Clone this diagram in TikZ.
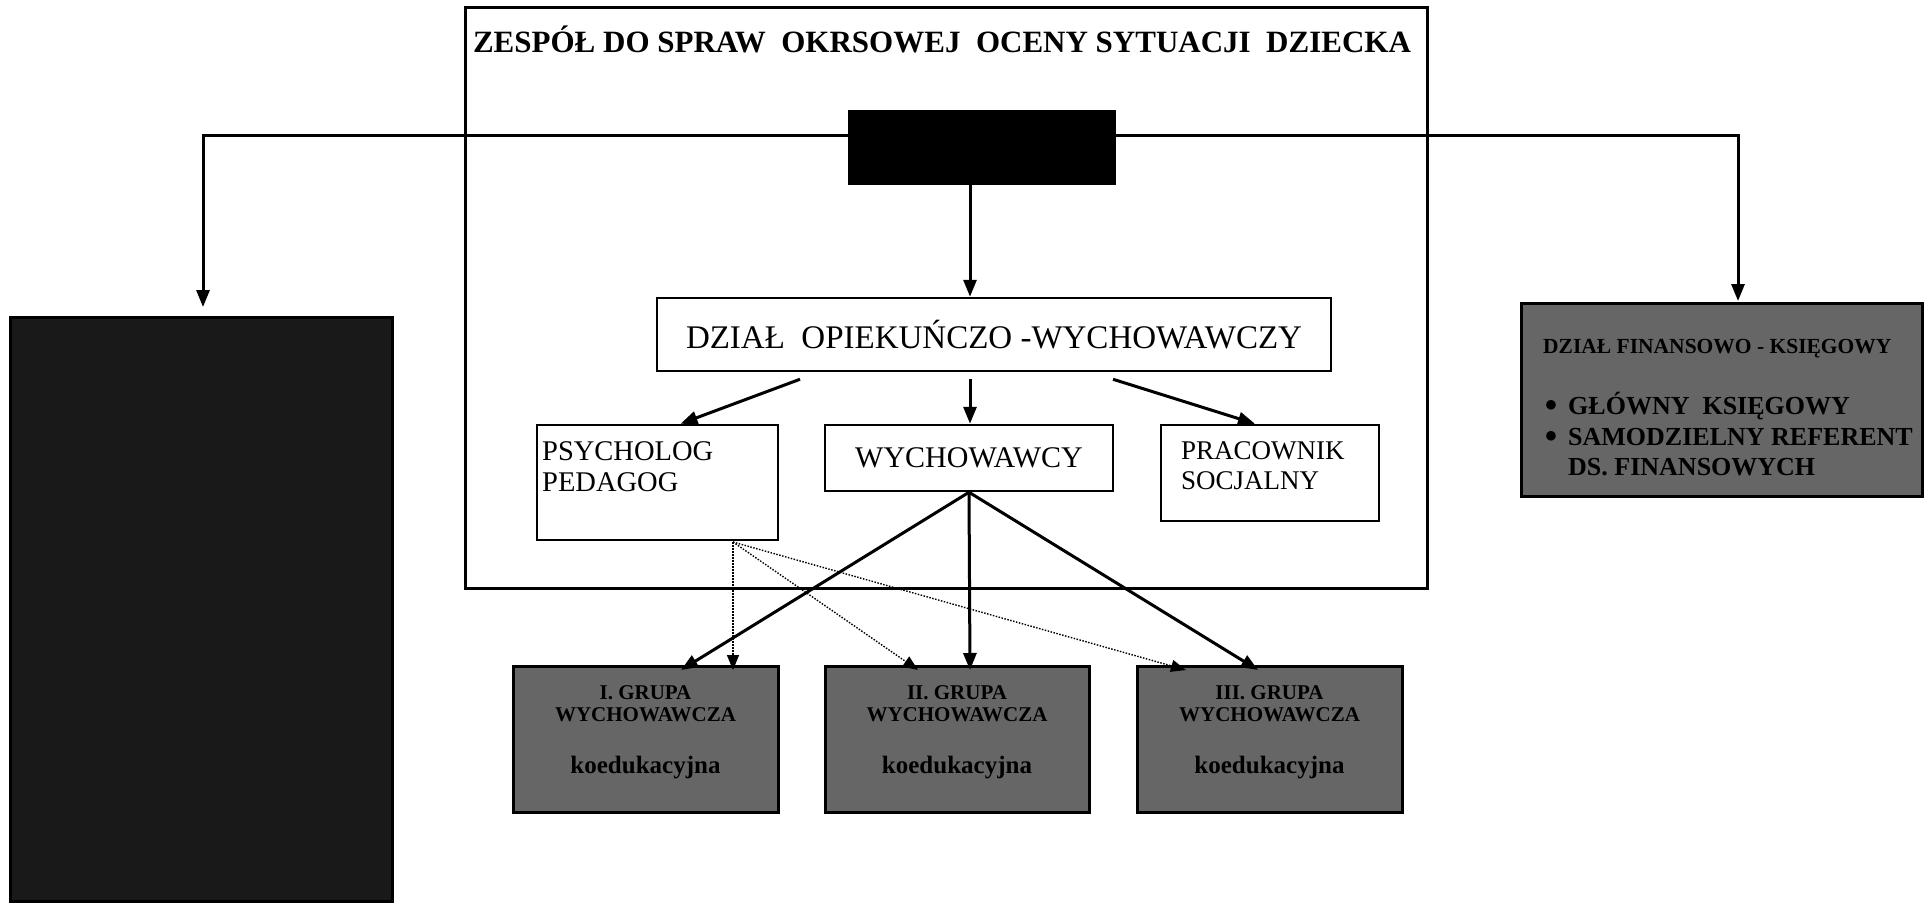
\documentclass[tikz,border=0pt]{standalone}
\usepackage{fontspec}
\setmainfont{Liberation Serif}
\usetikzlibrary{arrows.meta}
\begin{document}
\begin{tikzpicture}[x=1pt,y=-1pt,
  plain/.style={draw=black, line width=2.5pt, fill=white, inner sep=0pt, rectangle},
  darkbox/.style={draw=black, line width=3pt, fill=black!60, inner sep=0pt, rectangle},
  txt/.style={inner sep=0pt, text=black},
  conn/.style={line width=3pt, -{Triangle[length=17pt,width=13pt]}},
  dots/.style={line width=1.4pt, dash pattern=on 1.5pt off 1.5pt, -{Triangle[length=15pt,width=12pt]}}
]
\useasboundingbox (0,0) rectangle (1925,903);
\fill[white] (0,0) rectangle (1925,903);

% main frame
\node[plain, line width=3pt, minimum width=962pt, minimum height=581pt] (frame) at (946,298) {};
\node[txt, font=\fontsize{31}{34}\selectfont\bfseries] (title) at (942,39) {ZESPÓŁ DO SPRAW\ \ OKRSOWEJ\ \ OCENY SYTUACJI\ \ DZIECKA};

% black head box
\node[draw=black, fill=black, inner sep=0pt, minimum width=267pt, minimum height=74pt] (head) at (981.5,147) {};

% department
\node[plain, minimum width=674pt, minimum height=73pt, font=\fontsize{33}{36}\selectfont] (dzial) at (994,334.5) {DZIAŁ\ \ OPIEKUŃCZO -WYCHOWAWCZY};

% second level
\node[plain, minimum width=241pt, minimum height=115pt] (psych) at (657.5,482.5) {};
\node[txt, anchor=west, font=\fontsize{28.5}{31}\selectfont, align=left] (psycht) at (542,467) {PSYCHOLOG\\PEDAGOG};
\node[plain, minimum width=288pt, minimum height=66pt, font=\fontsize{30}{32}\selectfont] (wych) at (969,458) {WYCHOWAWCY};
\node[plain, minimum width=218pt, minimum height=96pt] (prac) at (1270,473) {};
\node[txt, anchor=west, font=\fontsize{27}{30}\selectfont, align=left] (pract) at (1181,465.5) {PRACOWNIK\\SOCJALNY};

% groups
\node[darkbox, minimum width=265pt, minimum height=146pt] (g1) at (645.5,739.5) {};
\node[darkbox, minimum width=264pt, minimum height=146pt] (g2) at (957,739.5) {};
\node[darkbox, minimum width=265pt, minimum height=146pt] (g3) at (1269.5,739.5) {};
\foreach \g/\lab in {g1/I. GRUPA, g2/II. GRUPA, g3/III. GRUPA}{
  \node[txt, font=\fontsize{21}{23}\selectfont\bfseries] (\g a) at ([yshift=46.5pt]\g.center) {\lab};
  \node[txt, font=\fontsize{21}{23}\selectfont\bfseries] (\g b) at ([yshift=24.5pt]\g.center) {WYCHOWAWCZA};
  \node[txt, font=\fontsize{25}{28}\selectfont\bfseries] (\g c) at ([yshift=-28pt]\g.center) {koedukacyjna};
}

% left dark box
\node[darkbox, fill=black!90, minimum width=382pt, minimum height=584pt] (left) at (201,609) {};

% right dark box
\node[darkbox, minimum width=401pt, minimum height=193pt] (right) at (1721.5,399.5) {};
\node[txt, anchor=west, font=\fontsize{21.5}{23}\selectfont\bfseries] (rh) at (1543,349) {DZIAŁ FINANSOWO - KSIĘGOWY};
\node[txt, font=\fontsize{30}{30}\selectfont\bfseries] (b1) at (1551,406) {$\bullet$};
\node[txt, font=\fontsize{30}{30}\selectfont\bfseries] (b2) at (1551,437) {$\bullet$};
\node[txt, anchor=west, font=\fontsize{26}{30}\selectfont\bfseries] (r1) at (1568,406) {GŁÓWNY\ \ KSIĘGOWY};
\node[txt, anchor=west, font=\fontsize{26}{30}\selectfont\bfseries] (r2) at (1568,437) {SAMODZIELNY REFERENT};
\node[txt, anchor=west, font=\fontsize{26}{30}\selectfont\bfseries] (r3) at (1568,467) {DS. FINANSOWYCH};

% connectors
\coordinate (ltip) at (203,307);
\coordinate (rtip) at (1738,301);
\draw[conn] ([yshift=12pt]head.west) -| (ltip);
\draw[conn] ([yshift=12pt]head.east) -| (rtip);
\draw[conn] ([xshift=-11.5pt]head.south) -- ([xshift=-24pt]dzial.north);

\draw[conn] ([xshift=-194pt,yshift=-7pt]dzial.south) -- ([xshift=23pt]psych.north);
\draw[conn] ([xshift=-24pt,yshift=-7pt]dzial.south) -- ([xshift=1pt]wych.north);
\draw[conn] ([xshift=119pt,yshift=-7pt]dzial.south) -- ([xshift=-15pt]prac.north);

\draw[conn] (wych.south) -- ([xshift=35.5pt,yshift=-5pt]g1.north);
\draw[conn] (wych.south) -- ([xshift=13pt,yshift=-5pt]g2.north);
\draw[conn] (wych.south) -- ([xshift=-11.5pt,yshift=-5pt]g3.north);

\coordinate (dstart) at (733,542);
\draw[dots] (dstart) -- ([xshift=87.5pt,yshift=-5pt]g1.north);
\draw[dots] (dstart) -- ([xshift=-39pt,yshift=-5pt]g2.north);
\draw[dots] (dstart) -- ([xshift=-83.5pt,yshift=-5pt]g3.north);
\end{tikzpicture}
\end{document}
